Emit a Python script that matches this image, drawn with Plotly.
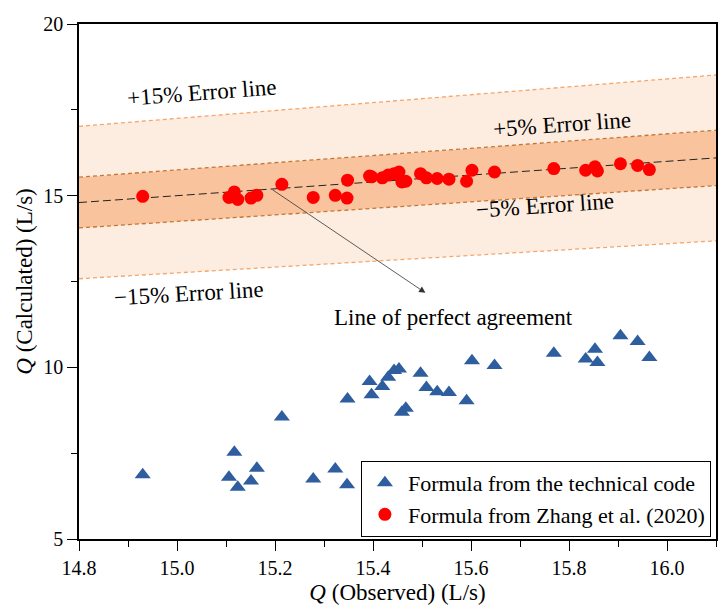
import plotly.graph_objects as go

# Observed discharge (L/s)
q_observed = [14.93, 15.106, 15.117, 15.124, 15.151, 15.163, 15.214, 15.278, 15.323, 15.347,
              15.348, 15.393, 15.397, 15.419, 15.431, 15.443, 15.453, 15.459, 15.467, 15.497,
              15.509, 15.531, 15.555, 15.591, 15.602, 15.648, 15.769, 15.834, 15.853, 15.858,
              15.905, 15.940, 15.964]
# Calculated by the technical code formula
q_technical = [6.87, 6.80, 7.53, 6.51, 6.69, 7.06, 8.55, 6.75, 7.04, 6.58,
               9.08, 9.59, 9.20, 9.44, 9.71, 9.91, 9.95, 8.69, 8.81, 9.83,
               9.41, 9.29, 9.27, 9.03, 10.19, 10.05, 10.41, 10.24, 10.53, 10.14,
               10.92, 10.75, 10.29]
# Calculated by Zhang et al. (2020)
q_zhang = [14.98, 14.95, 15.11, 14.89, 14.93, 15.01, 15.33, 14.95, 15.01, 14.93,
           15.45, 15.57, 15.55, 15.52, 15.60, 15.64, 15.69, 15.40, 15.42, 15.64,
           15.52, 15.50, 15.48, 15.42, 15.74, 15.69, 15.79, 15.74, 15.84, 15.72,
           15.93, 15.88, 15.76]

x_range = [14.8, 16.1]
y_range = [5, 20]
error_factors = [0.85, 0.95, 1.05, 1.15]

FONT = "Liberation Serif"
LIGHT = "#FDEDE1"
DARK = "#F9C49D"
OUTER_LINE = "#F5A66B"
INNER_LINE = "#C57636"

fig = go.Figure()

def line_y(k):
    return [k * v for v in x_range]

# band fills
fig.add_trace(go.Scatter(x=x_range, y=line_y(0.85), mode="lines", line=dict(width=0),
                         showlegend=False, hoverinfo="skip"))
fig.add_trace(go.Scatter(x=x_range, y=line_y(0.95), mode="lines", line=dict(width=0),
                         fill="tonexty", fillcolor=LIGHT, showlegend=False, hoverinfo="skip"))
fig.add_trace(go.Scatter(x=x_range, y=line_y(1.05), mode="lines", line=dict(width=0),
                         fill="tonexty", fillcolor=DARK, showlegend=False, hoverinfo="skip"))
fig.add_trace(go.Scatter(x=x_range, y=line_y(1.15), mode="lines", line=dict(width=0),
                         fill="tonexty", fillcolor=LIGHT, showlegend=False, hoverinfo="skip"))

# error lines
for k in error_factors:
    col = OUTER_LINE if k in (0.85, 1.15) else INNER_LINE
    fig.add_trace(go.Scatter(x=x_range, y=line_y(k), mode="lines",
                             line=dict(color=col, width=1.3, dash="4px,3px"),
                             showlegend=False, hoverinfo="skip"))
# perfect agreement
fig.add_trace(go.Scatter(x=x_range, y=line_y(1.0), mode="lines",
                         line=dict(color="#222222", width=1, dash="8px,4px"),
                         showlegend=False, hoverinfo="skip"))

fig.add_trace(go.Scatter(x=q_observed, y=q_technical, mode="markers",
                         name="Formula from the technical code",
                         marker=dict(symbol="triangle-up", size=14, color="#2E5E9E")))
fig.add_trace(go.Scatter(x=q_observed, y=q_zhang, mode="markers",
                         name="Formula from Zhang et al. (2020)",
                         marker=dict(symbol="circle", size=13, color="#FF0000")))

ann_font = dict(family=FONT, size=23, color="black")
annotations = [
    dict(x=15.052, y=18.0, text="+15% Error line", textangle=-4.3),
    dict(x=15.786, y=17.07, text="+5% Error line", textangle=-4.0),
    dict(x=15.752, y=14.7, text="\u22125% Error line", textangle=-3.8),
    dict(x=15.025, y=12.14, text="\u221215% Error line", textangle=-3.3),
    dict(x=15.565, y=11.45, text="Line of perfect agreement", textangle=0),
]
for a in annotations:
    fig.add_annotation(x=a["x"], y=a["y"], text=a["text"], textangle=a["textangle"],
                       showarrow=False, font=ann_font, xref="x", yref="y")

# arrow
fig.add_annotation(x=15.507, y=12.17, ax=15.192, ay=15.2, xref="x", yref="y",
                   axref="x", ayref="y", text="", showarrow=True, arrowhead=2,
                   arrowsize=1.6, arrowwidth=0.8, arrowcolor="#333333")

axis_common = dict(showline=True, linecolor="black", linewidth=1.5, mirror=True,
                   ticks="outside", ticklen=10, tickwidth=1.3, tickcolor="black",
                   showgrid=False, zeroline=False,
                   tickfont=dict(family=FONT, size=20, color="black"))

fig.update_xaxes(range=x_range, dtick=0.2, tick0=14.8, tickformat=".1f",
                 title=dict(text="<i>Q</i> (Observed) (L/s)",
                            font=dict(family=FONT, size=23, color="black"), standoff=6),
                 minor=dict(dtick=0.1, ticklen=6, tickwidth=1.2, tickcolor="black", ticks="outside"),
                 **axis_common)
fig.update_yaxes(range=y_range, dtick=5, tick0=5,
                 title=dict(text="<i>Q</i> (Calculated) (L/s)",
                            font=dict(family=FONT, size=23, color="black"), standoff=4),
                 minor=dict(dtick=2.5, ticklen=6, tickwidth=1.2, tickcolor="black", ticks="outside"),
                 **axis_common)

fig.update_layout(
    width=720, height=610,
    margin=dict(l=79, r=2, t=24, b=71),
    paper_bgcolor="white", plot_bgcolor="white",
    font=dict(family=FONT, color="black"),
    legend=dict(x=0.992, y=0.004, xanchor="right", yanchor="bottom",
                bgcolor="white", bordercolor="black", borderwidth=1,
                font=dict(family=FONT, size=22, color="black"),
                itemwidth=36, tracegroupgap=0, traceorder="normal"),
)

fig.write_html("out.html")
